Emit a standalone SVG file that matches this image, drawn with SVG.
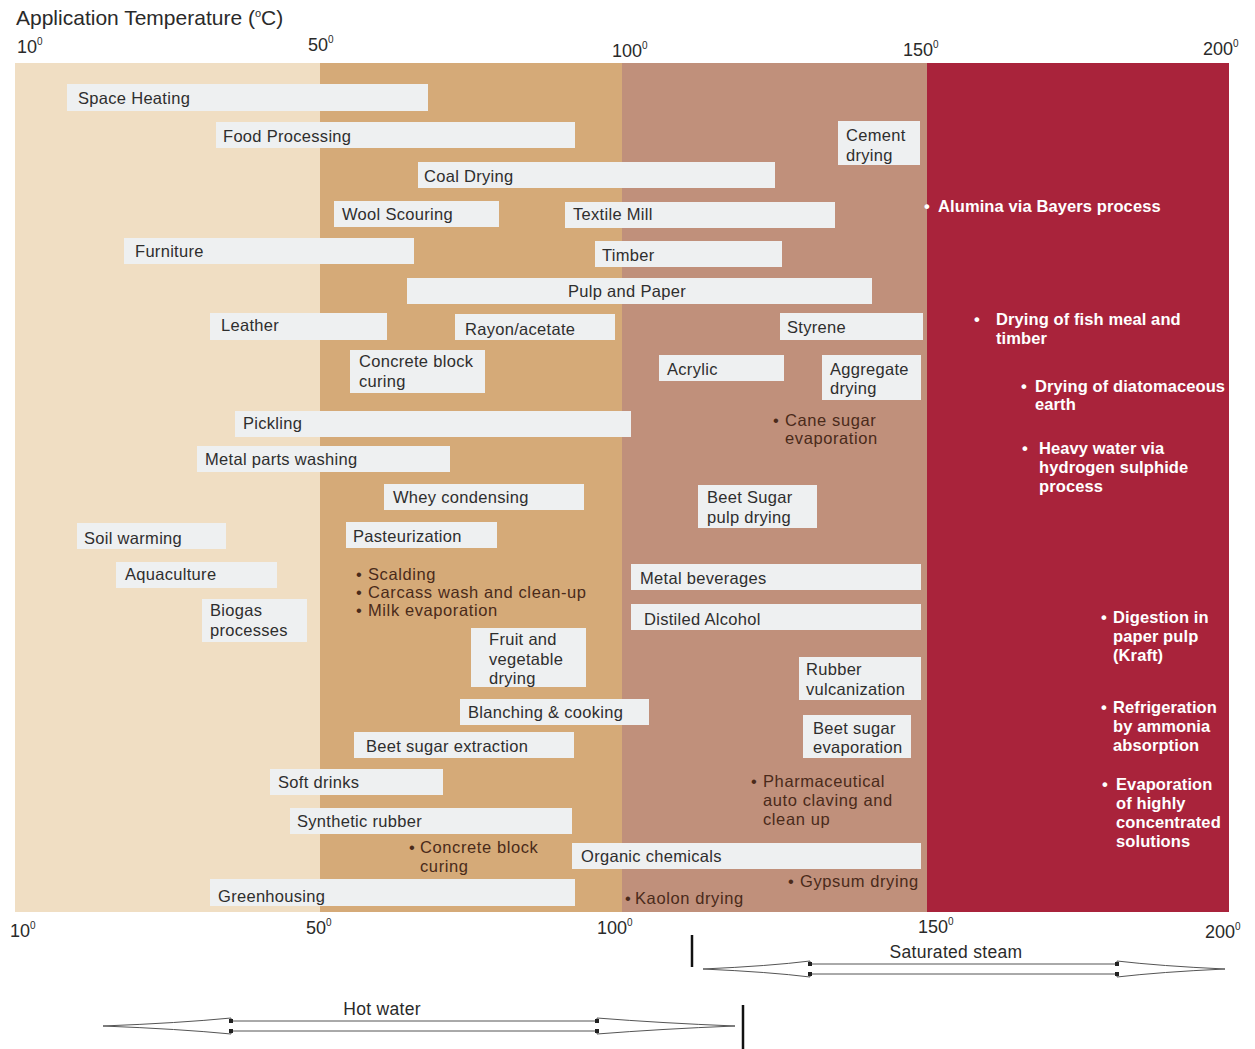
<svg xmlns="http://www.w3.org/2000/svg" width="1255" height="1049" viewBox="0 0 1255 1049">
<style>
text{font-family:"Liberation Sans",Arial,sans-serif;}
.ax{font-size:18px;fill:#2a2a2a;}
.sup{font-size:10px;}
.bar{fill:#EEF0F1;}
.bl{font-size:16.5px;fill:#2e2e2e;letter-spacing:0.3px;}
.bt{font-size:16.5px;fill:#4a2a1a;letter-spacing:0.6px;}
.wt{font-size:16.5px;fill:#ffffff;font-weight:bold;letter-spacing:0.1px;}
.arr{fill:#ffffff;stroke:#555;stroke-width:1;}
.dot{fill:#222;}
.al{font-size:17.5px;fill:#2a2a2a;letter-spacing:0.3px;}
</style>
<rect width="1255" height="1049" fill="#ffffff"/>
<g id="zones">
<rect x="15" y="63" width="305" height="849" fill="#F0DEC3"/>
<rect x="320" y="63" width="302" height="849" fill="#D5AA78"/>
<rect x="622" y="63" width="305" height="849" fill="#C0907B"/>
<rect x="927" y="63" width="302" height="849" fill="#A9233B"/>
</g>
<g id="axis">
<text x="16" y="25" style="font-size:21px;fill:#2a2a2a">Application Temperature (<tspan style="font-size:11px" dy="-8">o</tspan><tspan dy="8">C)</tspan></text>
<text class="ax" x="17" y="53">10<tspan class="sup" dy="-8">0</tspan></text>
<text class="ax" x="308" y="51">50<tspan class="sup" dy="-8">0</tspan></text>
<text class="ax" x="612" y="57">100<tspan class="sup" dy="-8">0</tspan></text>
<text class="ax" x="903" y="56">150<tspan class="sup" dy="-8">0</tspan></text>
<text class="ax" x="1203" y="55">200<tspan class="sup" dy="-8">0</tspan></text>
<text class="ax" x="10" y="937">10<tspan class="sup" dy="-8">0</tspan></text>
<text class="ax" x="306" y="934">50<tspan class="sup" dy="-8">0</tspan></text>
<text class="ax" x="597" y="934">100<tspan class="sup" dy="-8">0</tspan></text>
<text class="ax" x="918" y="933">150<tspan class="sup" dy="-8">0</tspan></text>
<text class="ax" x="1205" y="938">200<tspan class="sup" dy="-8">0</tspan></text>
</g>
<g id="n-space-heating"><rect class="bar" x="67" y="84" width="361" height="27"/><text class="bl" x="78" y="104">Space Heating</text></g>
<g id="n-food-processing"><rect class="bar" x="216" y="122" width="359" height="26"/><text class="bl" x="223" y="142">Food Processing</text></g>
<g id="n-cement-drying"><rect class="bar" x="838" y="121" width="82" height="44"/><text class="bl" x="846" y="141">Cement</text><text class="bl" x="846" y="161">drying</text></g>
<g id="n-coal-drying"><rect class="bar" x="418" y="162" width="357" height="26"/><text class="bl" x="424" y="182">Coal Drying</text></g>
<g id="n-wool-scouring"><rect class="bar" x="334" y="201" width="165" height="26"/><text class="bl" x="342" y="220">Wool Scouring</text></g>
<g id="n-textile-mill"><rect class="bar" x="565" y="202" width="270" height="26"/><text class="bl" x="573" y="220">Textile Mill</text></g>
<g id="n-alumina"><text class="wt" x="924" y="212">•</text><text class="wt" x="938" y="212">Alumina via Bayers process</text></g>
<g id="n-furniture"><rect class="bar" x="124" y="238" width="290" height="26"/><text class="bl" x="135" y="257">Furniture</text></g>
<g id="n-timber"><rect class="bar" x="595" y="241" width="187" height="26"/><text class="bl" x="602" y="261">Timber</text></g>
<g id="n-pulp-paper"><rect class="bar" x="407" y="278" width="465" height="26"/><text class="bl" x="568" y="297">Pulp and Paper</text></g>
<g id="n-leather"><rect class="bar" x="210" y="313" width="177" height="27"/><text class="bl" x="221" y="331">Leather</text></g>
<g id="n-rayon"><rect class="bar" x="455" y="314" width="160" height="26"/><text class="bl" x="465" y="335">Rayon/acetate</text></g>
<g id="n-styrene"><rect class="bar" x="780" y="313" width="143" height="27"/><text class="bl" x="787" y="333">Styrene</text></g>
<g id="n-fish-meal"><text class="wt" x="974" y="325">•</text><text class="wt" x="996" y="325">Drying of fish meal and</text><text class="wt" x="996" y="344">timber</text></g>
<g id="n-concrete-block-1"><rect class="bar" x="350" y="350" width="135" height="43"/><text class="bl" x="359" y="367">Concrete block</text><text class="bl" x="359" y="387">curing</text></g>
<g id="n-acrylic"><rect class="bar" x="659" y="355" width="125" height="26"/><text class="bl" x="667" y="375">Acrylic</text></g>
<g id="n-aggregate"><rect class="bar" x="822" y="355" width="99" height="45"/><text class="bl" x="830" y="375">Aggregate</text><text class="bl" x="830" y="394">drying</text></g>
<g id="n-diatomaceous"><text class="wt" x="1021" y="392">•</text><text class="wt" x="1035" y="392">Drying of diatomaceous</text><text class="wt" x="1035" y="410">earth</text></g>
<g id="n-cane-sugar"><text class="bt" x="773" y="426">•</text><text class="bt" x="785" y="426">Cane sugar</text><text class="bt" x="785" y="444">evaporation</text></g>
<g id="n-pickling"><rect class="bar" x="235" y="411" width="396" height="26"/><text class="bl" x="243" y="429">Pickling</text></g>
<g id="n-heavy-water"><text class="wt" x="1022" y="454">•</text><text class="wt" x="1039" y="454">Heavy water via</text><text class="wt" x="1039" y="473">hydrogen sulphide</text><text class="wt" x="1039" y="492">process</text></g>
<g id="n-metal-parts"><rect class="bar" x="197" y="446" width="253" height="26"/><text class="bl" x="205" y="465">Metal parts washing</text></g>
<g id="n-whey"><rect class="bar" x="384" y="484" width="200" height="26"/><text class="bl" x="393" y="503">Whey condensing</text></g>
<g id="n-beet-pulp"><rect class="bar" x="698" y="485" width="119" height="43"/><text class="bl" x="707" y="503">Beet Sugar</text><text class="bl" x="707" y="523">pulp drying</text></g>
<g id="n-soil-warming"><rect class="bar" x="77" y="523" width="149" height="26"/><text class="bl" x="84" y="544">Soil warming</text></g>
<g id="n-pasteurization"><rect class="bar" x="346" y="522" width="151" height="26"/><text class="bl" x="353" y="542">Pasteurization</text></g>
<g id="n-scalding"><text class="bt" x="356" y="580">•</text><text class="bt" x="368" y="580">Scalding</text><text class="bt" x="356" y="598">•</text><text class="bt" x="368" y="598">Carcass wash and clean-up</text><text class="bt" x="356" y="616">•</text><text class="bt" x="368" y="616">Milk evaporation</text></g>
<g id="n-aquaculture"><rect class="bar" x="116" y="562" width="161" height="26"/><text class="bl" x="125" y="580">Aquaculture</text></g>
<g id="n-metal-beverages"><rect class="bar" x="631" y="564" width="290" height="26"/><text class="bl" x="640" y="584">Metal beverages</text></g>
<g id="n-biogas"><rect class="bar" x="202" y="599" width="105" height="43"/><text class="bl" x="210" y="616">Biogas</text><text class="bl" x="210" y="636">processes</text></g>
<g id="n-distilled"><rect class="bar" x="631" y="604" width="290" height="26"/><text class="bl" x="644" y="625">Distiled Alcohol</text></g>
<g id="n-digestion"><text class="wt" x="1101" y="623">•</text><text class="wt" x="1113" y="623">Digestion in</text><text class="wt" x="1113" y="642">paper pulp</text><text class="wt" x="1113" y="661">(Kraft)</text></g>
<g id="n-fruit-veg"><rect class="bar" x="471" y="628" width="115" height="59"/><text class="bl" x="489" y="645">Fruit and</text><text class="bl" x="489" y="665">vegetable</text><text class="bl" x="489" y="684">drying</text></g>
<g id="n-rubber"><rect class="bar" x="799" y="657" width="122" height="43"/><text class="bl" x="806" y="675">Rubber</text><text class="bl" x="806" y="695">vulcanization</text></g>
<g id="n-blanching"><rect class="bar" x="460" y="699" width="189" height="26"/><text class="bl" x="468" y="718">Blanching &amp; cooking</text></g>
<g id="n-refrigeration"><text class="wt" x="1101" y="713">•</text><text class="wt" x="1113" y="713">Refrigeration</text><text class="wt" x="1113" y="732">by ammonia</text><text class="wt" x="1113" y="751">absorption</text></g>
<g id="n-beet-evap"><rect class="bar" x="803" y="715" width="108" height="43"/><text class="bl" x="813" y="734">Beet sugar</text><text class="bl" x="813" y="753">evaporation</text></g>
<g id="n-beet-extraction"><rect class="bar" x="354" y="732" width="220" height="26"/><text class="bl" x="366" y="752">Beet sugar extraction</text></g>
<g id="n-pharma"><text class="bt" x="751" y="787">•</text><text class="bt" x="763" y="787">Pharmaceutical</text><text class="bt" x="763" y="806">auto claving and</text><text class="bt" x="763" y="825">clean up</text></g>
<g id="n-soft-drinks"><rect class="bar" x="270" y="769" width="173" height="26"/><text class="bl" x="278" y="788">Soft drinks</text></g>
<g id="n-evaporation"><text class="wt" x="1102" y="790">•</text><text class="wt" x="1116" y="790">Evaporation</text><text class="wt" x="1116" y="809">of highly</text><text class="wt" x="1116" y="828">concentrated</text><text class="wt" x="1116" y="847">solutions</text></g>
<g id="n-synthetic-rubber"><rect class="bar" x="290" y="808" width="282" height="26"/><text class="bl" x="297" y="827">Synthetic rubber</text></g>
<g id="n-concrete-block-2"><text class="bt" x="409" y="853">•</text><text class="bt" x="420" y="853">Concrete block</text><text class="bt" x="420" y="872">curing</text></g>
<g id="n-organic"><rect class="bar" x="572" y="843" width="349" height="26"/><text class="bl" x="581" y="862">Organic chemicals</text></g>
<g id="n-gypsum"><text class="bt" x="788" y="887">•</text><text class="bt" x="800" y="887">Gypsum drying</text></g>
<g id="n-greenhousing"><rect class="bar" x="210" y="879" width="365" height="27"/><text class="bl" x="218" y="902">Greenhousing</text></g>
<g id="n-kaolon"><text class="bt" x="625" y="904">•</text><text class="bt" x="635" y="904">Kaolon drying</text></g>
<g id="connectors">
<line x1="692" y1="935" x2="692" y2="967" stroke="#111" stroke-width="2.5"/>
<path class="arr" d="M703 969 Q770 966 810 961 L810 964 L1117 964 L1117 961 Q1160 966 1225 969 Q1160 972 1117 977 L1117 974 L810 974 L810 977 Q770 972 703 969 Z"/>
<rect class="dot" x="808" y="962" width="4" height="4"/><rect class="dot" x="808" y="972" width="4" height="4"/>
<rect class="dot" x="1115" y="962" width="4" height="4"/><rect class="dot" x="1115" y="972" width="4" height="4"/>
<text class="al" x="956" y="958" text-anchor="middle">Saturated steam</text>
<line x1="743" y1="1005" x2="743" y2="1049" stroke="#111" stroke-width="2.5"/>
<path class="arr" d="M103 1026 Q180 1023 231 1018 L231 1021 L597 1021 L597 1018 Q660 1023 735 1026 Q660 1029 597 1034 L597 1031 L231 1031 L231 1034 Q180 1029 103 1026 Z"/>
<rect class="dot" x="229" y="1019" width="4" height="4"/><rect class="dot" x="229" y="1029" width="4" height="4"/>
<rect class="dot" x="595" y="1019" width="4" height="4"/><rect class="dot" x="595" y="1029" width="4" height="4"/>
<text class="al" x="382" y="1015" text-anchor="middle">Hot water</text>
</g>
</svg>
